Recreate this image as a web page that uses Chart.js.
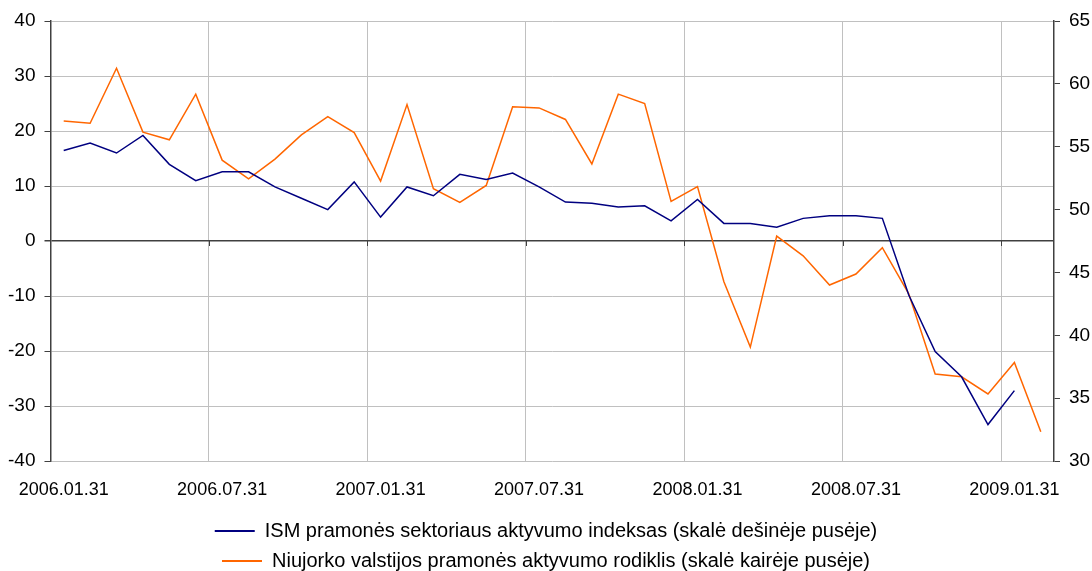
<!DOCTYPE html>
<html>
<head>
<meta charset="utf-8">
<script src="https://cdn.jsdelivr.net/npm/chart.js@4/dist/chart.umd.min.js"></script>
<style>
  html, body { margin: 0; padding: 0; background: #fff; }
  #wrap { width: 1092px; height: 571px; }
</style>
</head>
<body>
<div id="wrap"><canvas id="ismChart"></canvas></div>
<script>
// month-end dates, one per category
const months = [
    '2006.01.31', '2006.02.28', '2006.03.31', '2006.04.30', '2006.05.31', '2006.06.30',
    '2006.07.31', '2006.08.31', '2006.09.30', '2006.10.31', '2006.11.30', '2006.12.31',
    '2007.01.31', '2007.02.28', '2007.03.31', '2007.04.30', '2007.05.31', '2007.06.30',
    '2007.07.31', '2007.08.31', '2007.09.30', '2007.10.31', '2007.11.30', '2007.12.31',
    '2008.01.31', '2008.02.29', '2008.03.31', '2008.04.30', '2008.05.31', '2008.06.30',
    '2008.07.31', '2008.08.31', '2008.09.30', '2008.10.31', '2008.11.30', '2008.12.31',
    '2009.01.31', '2009.02.28'
];

// ISM index, right axis
const ismValues = [
    54.7, 55.3, 54.5, 55.9, 53.6, 52.3, 53.0, 53.0, 51.8, 50.9, 50.0, 52.2,
    49.4, 51.8, 51.1, 52.8, 52.4, 52.9, 51.8, 50.6, 50.5, 50.2, 50.3, 49.1,
    50.8, 48.9, 48.9, 48.6, 49.3, 49.5, 49.5, 49.3, 43.2, 38.7, 36.7, 32.9,
    35.6, null
];

// New York (Empire State) index, left axis
const nyValues = [
    21.8, 21.4, 31.4, 19.8, 18.4, 26.7, 14.7, 11.3, 14.9, 19.3, 22.6, 19.7,
    10.9, 24.8, 9.5, 7.0, 10.1, 24.4, 24.2, 22.1, 14.0, 26.7, 25.0, 7.2,
    9.9, -7.4, -19.3, 0.9, -2.7, -8.0, -6.0, -1.2, -9.6, -24.2, -24.7, -27.8,
    -22.1, -34.7
];

const leftTicks = { min: -40, max: 40, step: 10 };
const rightTicks = { min: 30, max: 65, step: 5 };
const labelEvery = 6;

const ismLabel = 'ISM pramonės sektoriaus aktyvumo indeksas (skalė dešinėje pusėje)';
const nyLabel = 'Niujorko valstijos pramonės aktyvumo rodiklis (skalė kairėje pusėje)';

const axisColor = '#404040';
const gridColor = '#c0c0c0';

Chart.defaults.font.family = '"Liberation Sans", Arial, sans-serif';
Chart.defaults.font.size = 18;
Chart.defaults.color = '#000';

// small tick marks on the zero line, like the category axis crossing at 0
const zeroTicks = {
    id: 'zeroTicks',
    beforeDatasetsDraw(chart) {
        const x = chart.scales.x;
        const y = chart.scales.y;
        const ctx = chart.ctx;
        const half = (x.getPixelForValue(1) - x.getPixelForValue(0)) / 2;
        const y0 = y.getPixelForValue(0);
        ctx.save();
        ctx.strokeStyle = axisColor;
        ctx.lineWidth = 1;
        for (let i = labelEvery; i < months.length; i += labelEvery) {
            const px = Math.round(x.getPixelForValue(i) - half) + 0.5;
            ctx.beginPath();
            ctx.moveTo(px, y0);
            ctx.lineTo(px, y0 + 5);
            ctx.stroke();
        }
        ctx.restore();
    }
};

new Chart(document.getElementById('ismChart'), {
    type: 'line',
    data: {
        labels: months,
        datasets: [{
            label: ismLabel,
            data: ismValues,
            yAxisID: 'y1',
            borderColor: '#000080',
            backgroundColor: '#000080',
            borderWidth: 1.5,
            pointRadius: 0,
            tension: 0,
            spanGaps: false
        }, {
            label: nyLabel,
            data: nyValues,
            yAxisID: 'y',
            borderColor: '#ff6600',
            backgroundColor: '#ff6600',
            borderWidth: 1.5,
            pointRadius: 0,
            tension: 0
        }]
    },
    options: {
        responsive: true,
        maintainAspectRatio: false,
        animation: false,
        // legend sits lower than Chart.js normally allows, hence the negative bottom
        layout: { padding: { top: 21, right: 0, left: 0, bottom: -10 } },
        plugins: {
            tooltip: { enabled: false },
            legend: {
                position: 'bottom',
                labels: {
                    boxWidth: 40,
                    boxHeight: 2,
                    padding: 10,
                    font: { size: 20 },
                    generateLabels(chart) {
                        const items = Chart.defaults.plugins.legend.labels.generateLabels(chart);
                        items.forEach(it => { it.lineWidth = 0; });
                        return items;
                    }
                }
            }
        },
        scales: {
            x: {
                offset: true,
                grid: {
                    offset: true,
                    drawTicks: false,
                    color: ctx => (ctx.index % labelEvery === 0 ? gridColor : 'rgba(0,0,0,0)')
                },
                border: { display: false },
                ticks: {
                    autoSkip: false,
                    maxRotation: 0,
                    padding: 18,
                    callback: (v, i) => (i % labelEvery === 0 ? months[i] : '')
                },
                afterFit: s => { s.height = 50; }
            },
            y: {
                position: 'left',
                min: leftTicks.min,
                max: leftTicks.max,
                ticks: { stepSize: leftTicks.step, padding: 9, font: { size: 19 } },
                grid: {
                    color: ctx => (ctx.tick.value === 0 ? axisColor : gridColor),
                    lineWidth: ctx => (ctx.tick.value === 0 ? 1.5 : 1),
                    tickColor: axisColor,
                    tickLength: 6
                },
                border: { color: axisColor, width: 1.5 },
                afterFit: s => { s.width = 50; }
            },
            y1: {
                position: 'right',
                min: rightTicks.min,
                max: rightTicks.max,
                ticks: { stepSize: rightTicks.step, padding: 9, font: { size: 19 } },
                grid: {
                    drawOnChartArea: false,
                    tickColor: axisColor,
                    tickLength: 6
                },
                border: { color: axisColor, width: 1.5 },
                afterFit: s => { s.width = 38; }
            }
        }
    },
    plugins: [zeroTicks]
});
</script>
</body>
</html>
